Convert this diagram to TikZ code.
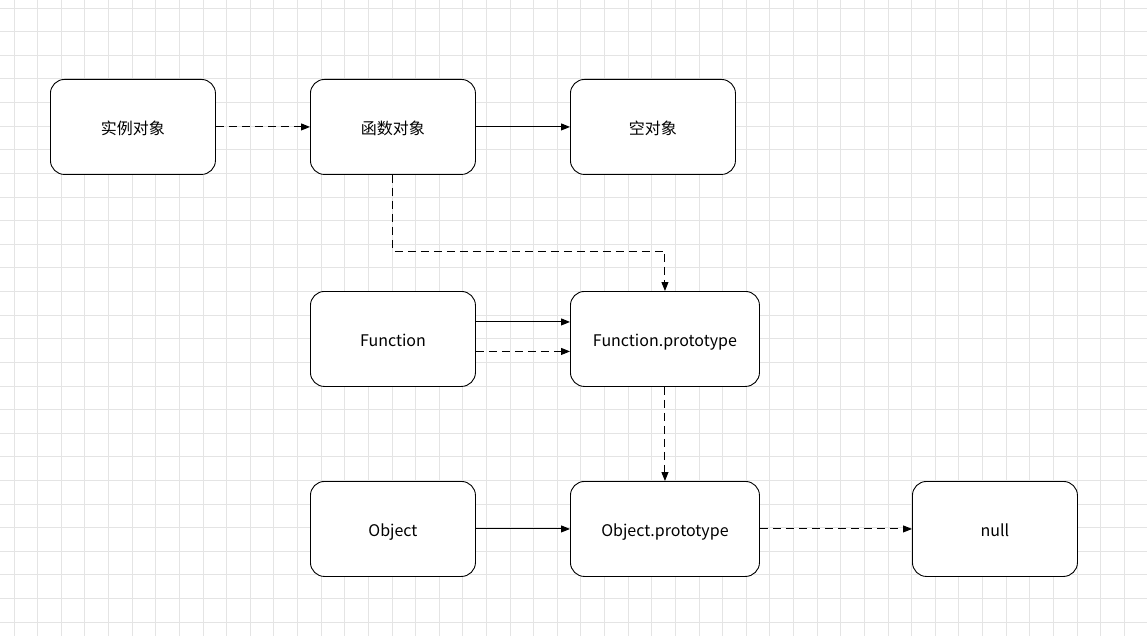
\documentclass[tikz,border=0pt]{standalone}
\usepackage{fontspec}
\setmainfont{Noto Sans CJK SC}
\usetikzlibrary{arrows.meta}
\definecolor{gridgray}{HTML}{E4E4E4}
\begin{document}
\begin{tikzpicture}[x=1pt,y=-1pt,
  box/.style={draw=black, line width=0.9pt, rounded corners=14pt, fill=white,
    minimum width=165pt, minimum height=95pt, anchor=north west, inner sep=0pt,
    text height=15pt, text depth=0pt,
    font=\fontsize{16}{18}\selectfont},
  widebox/.style={box, minimum width=189pt},
  link/.style={line width=1pt, -{Triangle[length=9pt,width=7pt]}},
  dlink/.style={link, dash pattern=on 8pt off 5pt},
  gridline/.style={draw=gridgray, line width=0.8pt}]
% canvas and background grid
\fill[white] (0,0) rectangle (1147,636);
\useasboundingbox (0,0) rectangle (1147,636);
\foreach \i in {0,...,47} { \draw[gridline] ({14+23.62*\i},0) -- ++(0,636); }
\foreach \j in {0,...,26} { \draw[gridline] (0,{8+23.62*\j}) -- ++(1147,0); }

% nodes
\node[box] (inst) at (50,79) {实例对象};
\node[box] (fn) at (310,79) {函数对象};
\node[box] (empty) at (570,79) {空对象};
\node[box] (func) at (310,291) {Function};
\node[widebox] (fproto) at (570,291) {Function.prototype};
\node[box] (obj) at (310,481) {Object};
\node[widebox] (oproto) at (570,481) {Object.prototype};
\node[box] (null) at (912,481) {null};

% connectors
\draw[dlink] (inst.east) -- (fn.west);
\draw[link] (fn.east) -- (empty.west);
\draw[dlink] (fn.south) -- (fn.south |- 0,251) -| (fproto.north);
\draw[link] ([yshift=17pt]func.east) -- ([yshift=17pt]func.east -| fproto.west);
\draw[dlink] ([yshift=-12.5pt]func.east) -- ([yshift=-12.5pt]func.east -| fproto.west);
\draw[dlink] (fproto.south) -- (oproto.north);
\draw[link] (obj.east) -- (oproto.west);
\draw[dlink] (oproto.east) -- (null.west);
\end{tikzpicture}
\end{document}
